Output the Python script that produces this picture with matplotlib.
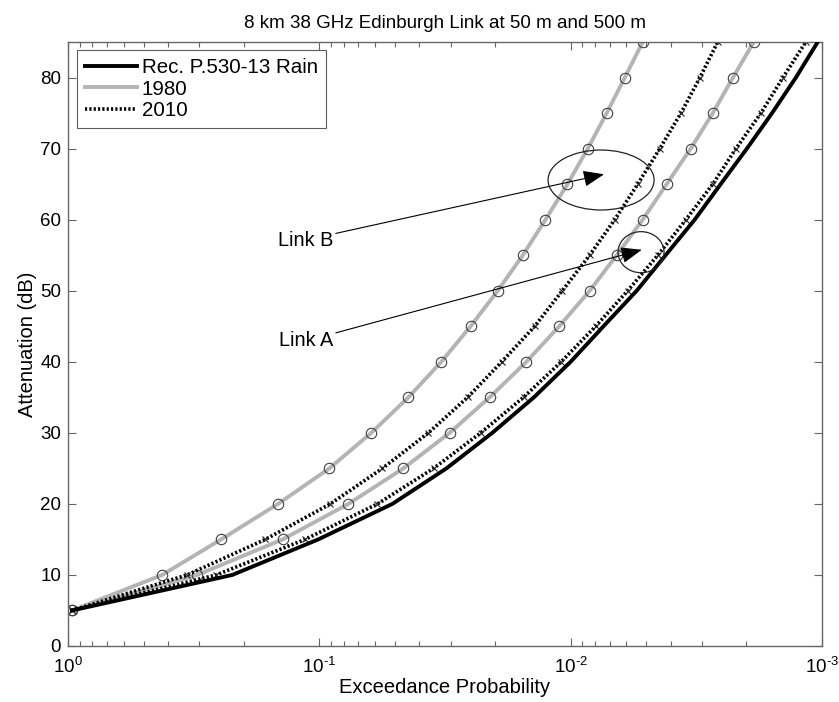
import numpy as np
import matplotlib
matplotlib.use("Agg")
import matplotlib.pyplot as plt
from matplotlib.lines import Line2D
from matplotlib.patches import Ellipse
from matplotlib.ticker import FuncFormatter

plt.rcParams['font.family'] = ['Liberation Sans', 'DejaVu Sans']
plt.rcParams['mathtext.fontset'] = 'custom'
plt.rcParams['mathtext.rm'] = 'Liberation Sans'

# Attenuation levels (dB)
atten = [5, 10, 15, 20, 25, 30, 35, 40, 45, 50, 55, 60, 65, 70, 75, 80, 85]

# Exceedance probabilities
rec_p = [0.964, 0.222, 0.101, 0.0512, 0.0312, 0.0205, 0.0140, 0.0100, 0.0074,
         0.00546, 0.00419, 0.00321, 0.00253, 0.00199, 0.00158, 0.00127, 0.00104]
linkB_1980 = [0.964, 0.422, 0.246, 0.146, 0.0912, 0.0621, 0.0442, 0.0327, 0.0250,
              0.0195, 0.0155, 0.0126, 0.0103, 0.00855, 0.00719, 0.00609, 0.00517]
linkB_2010 = [0.964, 0.336, 0.164, 0.0904, 0.0561, 0.0368, 0.0257, 0.0188, 0.0139,
              0.0108, 0.0084, 0.00668, 0.00541, 0.00442, 0.00364, 0.00306, 0.00260]
linkA_1980 = [0.964, 0.306, 0.140, 0.0766, 0.0463, 0.0303, 0.0210, 0.0150, 0.0111,
              0.0084, 0.00656, 0.00517, 0.00415, 0.00333, 0.00272, 0.00226, 0.00187]
linkA_2010 = [0.964, 0.257, 0.114, 0.0587, 0.0351, 0.0228, 0.0154, 0.0109, 0.00795,
              0.00593, 0.0045, 0.00348, 0.00272, 0.0022, 0.00175, 0.00143, 0.00116]

legend_labels = ['Rec. P.530-13 Rain', '1980', '2010']
title = '8 km 38 GHz Edinburgh Link at 50 m and 500 m'

fig = plt.figure(figsize=(8.39, 7.02), dpi=100)
ax = fig.add_axes([68/839, 56/702, 754/839, 604/702])

gray = '#b4b4b4'
mk_edge = '#404040'
dot_style = (0, (0.6, 0.6))

ax.plot(rec_p, atten, color='black', lw=2.8, zorder=3)
for series in (linkB_1980, linkA_1980):
    ax.plot(series, atten, color=gray, lw=2.8, marker='o', ms=7.5, mfc='none',
            mec=mk_edge, mew=0.8, zorder=2)
for series in (linkB_2010, linkA_2010):
    ax.plot(series, atten, color='black', lw=2.6, ls=dot_style, marker='x', ms=4,
            mec='#222222', mew=0.8, zorder=2.5)

ax.set_xscale('log')
ax.set_xlim(1, 1e-3)
ax.set_ylim(0, 85)
ax.set_yticks(range(0, 90, 10))


def decade_label(v, pos):
    e = int(round(np.log10(v)))
    if e < 0:
        return r'10$^{\text{-}%d}$' % (-e)
    return r'10$^{%d}$' % e


ax.xaxis.set_major_formatter(FuncFormatter(decade_label))

spine_c = '#666666'
for s in ax.spines.values():
    s.set_color(spine_c)
    s.set_linewidth(1.0)
ax.tick_params(which='both', direction='in', top=True, right=True, color=spine_c,
               labelsize=13.5, labelcolor='black')
ax.tick_params(which='major', length=6, width=0.8)
ax.tick_params(which='minor', length=3.5, width=0.8)
ax.tick_params(axis='x', which='major', pad=7)
ax.tick_params(axis='y', which='major', pad=5)

ax.set_xlabel('Exceedance Probability', fontsize=14.5, labelpad=1)
ax.set_ylabel('Attenuation (dB)', fontsize=14.5, labelpad=2)
ax.set_title(title, fontsize=13.5, pad=10)

handles = [Line2D([], [], color='black', lw=2.8),
           Line2D([], [], color=gray, lw=2.8),
           Line2D([], [], color='black', lw=2.6, ls=dot_style)]
leg = ax.legend(handles, legend_labels, loc='upper left', fontsize=14.8,
                frameon=True, fancybox=False, edgecolor='#333333',
                borderaxespad=0.0, bbox_to_anchor=(9/754, 1 - 8/604),
                handlelength=2.5, handletextpad=0.25, labelspacing=0.12,
                borderpad=0.4)
leg.get_frame().set_linewidth(0.8)

# Annotations (axes-fraction coordinates)
ax.add_patch(Ellipse((0.707, 0.7715), 0.1406, 0.0993, transform=ax.transAxes,
                     fill=False, ec='#222222', lw=0.9, zorder=4))
ax.add_patch(Ellipse((0.760, 0.652), 0.061, 0.068, transform=ax.transAxes,
                     fill=False, ec='#222222', lw=0.9, zorder=4))
ax.annotate('Link B', xy=(0.711, 0.781), xycoords='axes fraction',
            xytext=(0.3515, 0.672), textcoords='axes fraction',
            ha='right', va='center', fontsize=14.3,
            arrowprops=dict(arrowstyle='-|>,head_length=0.9,head_width=0.35',
                            color='black', lw=0.8, shrinkA=0, shrinkB=0))
ax.annotate('Link A', xy=(0.761, 0.656), xycoords='axes fraction',
            xytext=(0.3515, 0.505), textcoords='axes fraction',
            ha='right', va='center', fontsize=14.3,
            arrowprops=dict(arrowstyle='-|>,head_length=0.9,head_width=0.35',
                            color='black', lw=0.8, shrinkA=0, shrinkB=0))

fig.savefig('out.png', dpi=100, facecolor='white')
